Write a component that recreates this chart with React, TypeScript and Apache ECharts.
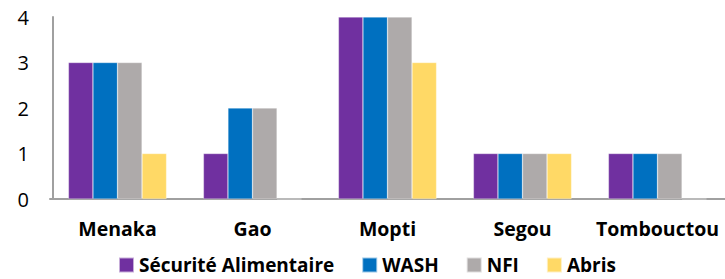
import React, { useEffect, useRef } from "react";
import * as echarts from "echarts";

const categories = ["Menaka", "Gao", "Mopti", "Segou", "Tombouctou"];
const securiteAlimentaire = [3, 1, 4, 1, 1];
const wash = [3, 2, 4, 1, 1];
const nfi = [3, 2, 4, 1, 1];
const abris = [1, 0, 3, 1, 0];
const seriesNames = ["Sécurité Alimentaire", "WASH", "NFI", "Abris"];
const colors = ["#7030A0", "#0070C0", "#AEAAAA", "#FFD966"];

export default function App() {
  const ref = useRef<HTMLDivElement>(null);
  useEffect(() => {
    if (!ref.current) return;
    const chart = echarts.init(ref.current, undefined, { renderer: "svg" });
    const data = [securiteAlimentaire, wash, nfi, abris];
    chart.setOption({
      animation: false,
      textStyle: { fontFamily: "Open Sans" },
      grid: { left: 50, right: -1, top: 17, bottom: 80, containLabel: false },
      legend: {
        top: 255,
        left: 118,
        padding: 0,
        itemWidth: 15,
        itemHeight: 15,
        itemGap: 27,
        icon: "rect",
        textStyle: {
          fontFamily: "Open Sans",
          fontWeight: "bold",
          fontSize: 19,
          lineHeight: 20,
          color: "#000",
        },
        data: seriesNames,
      },
      xAxis: {
        type: "category",
        data: categories,
        axisLine: { show: true, lineStyle: { color: "#A0A0A0", width: 2 } },
        axisTick: { show: false },
        axisLabel: {
          interval: 0,
          fontFamily: "Open Sans",
          fontWeight: "bold",
          fontSize: 19.5,
          color: "#000",
          margin: 19,
        },
      },
      yAxis: {
        type: "value",
        min: 0,
        max: 4,
        interval: 1,
        offset: -3,
        axisLine: { show: true, lineStyle: { color: "#A0A0A0", width: 2 } },
        axisTick: { show: false },
        splitLine: { show: false },
        axisLabel: { fontFamily: "Open Sans", fontSize: 20, color: "#000", margin: 24 },
      },
      series: seriesNames.map((name, i) => ({
        name,
        type: "bar",
        data: data[i],
        barGap: "0%",
        barCategoryGap: "27.3%",
        itemStyle: { color: colors[i], borderColor: "rgba(255,255,255,0.6)", borderWidth: 0.5 },
      })),
    });
    return () => chart.dispose();
  }, []);
  return (
    <div
      ref={ref}
      style={{ position: "fixed", left: 0, top: 0, width: 725, height: 279, background: "#fff" }}
    />
  );
}
